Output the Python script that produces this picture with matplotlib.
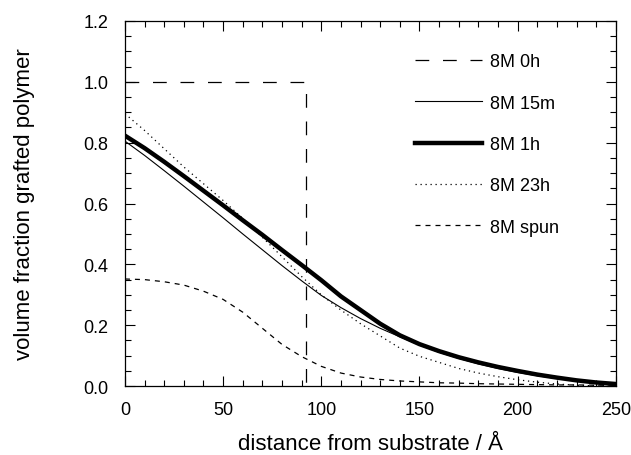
import numpy as np
import matplotlib
matplotlib.use('Agg')
import matplotlib.pyplot as plt
from matplotlib.ticker import MultipleLocator

plt.rcParams['font.family'] = ['Liberation Sans', 'DejaVu Sans']

# distance from substrate (A)
x = [0, 10, 20, 30, 40, 50, 60, 70, 80, 90, 100, 110, 120, 130, 140, 150,
     160, 170, 180, 190, 200, 210, 220, 230, 240, 250]

# 8M 0h: step profile
x_0h = [0, 92, 92]
y_0h = [1.0, 1.0, 0.0]

y_15m = [0.805, 0.758, 0.708, 0.657, 0.605, 0.553, 0.500, 0.448, 0.396, 0.346,
         0.298, 0.258, 0.222, 0.190, 0.162, 0.135, 0.111, 0.091, 0.073, 0.058,
         0.045, 0.034, 0.025, 0.017, 0.011, 0.006]
y_1h = [0.823, 0.782, 0.737, 0.690, 0.642, 0.594, 0.545, 0.497, 0.447, 0.398,
        0.348, 0.295, 0.250, 0.205, 0.167, 0.138, 0.115, 0.095, 0.078, 0.063,
        0.050, 0.038, 0.028, 0.019, 0.012, 0.007]
y_23h = [0.895, 0.840, 0.780, 0.720, 0.665, 0.610, 0.551, 0.489, 0.425, 0.360,
         0.300, 0.250, 0.205, 0.165, 0.125, 0.098, 0.078, 0.058, 0.043, 0.031,
         0.021, 0.013, 0.007, 0.003, 0.001, 0.000]
y_spun = [0.352, 0.350, 0.343, 0.332, 0.312, 0.285, 0.243, 0.190, 0.137, 0.097,
          0.065, 0.043, 0.030, 0.022, 0.017, 0.014, 0.011, 0.010, 0.008, 0.007,
          0.006, 0.005, 0.004, 0.004, 0.003, 0.003]

fig = plt.figure(figsize=(6.31, 4.56), dpi=100)
ax = fig.add_axes([0.198, 0.151, 0.778, 0.801])

ax.plot(x_0h, y_0h, color='black', lw=0.9, linestyle=(0, (11, 11)), label='8M 0h')
ax.plot(x, y_15m, color='black', lw=0.8, label='8M 15m')
ax.plot(x, y_1h, color='black', lw=3.2, label='8M 1h')
ax.plot(x, y_23h, color='black', lw=0.9, linestyle=(0, (1, 3)), label='8M 23h')
ax.plot(x, y_spun, color='black', lw=0.9, linestyle=(0, (4, 4)), label='8M spun')

ax.set_xlim(0, 250)
ax.set_ylim(0, 1.2)
ax.xaxis.set_major_locator(MultipleLocator(50))
ax.xaxis.set_minor_locator(MultipleLocator(10))
ax.yaxis.set_major_locator(MultipleLocator(0.2))
ax.yaxis.set_minor_locator(MultipleLocator(0.05))
ax.yaxis.set_major_formatter(matplotlib.ticker.FormatStrFormatter('%.1f'))

ax.tick_params(which='both', direction='in', top=True, right=True, width=0.8)
ax.tick_params(which='major', length=7, labelsize=13)
ax.tick_params(which='minor', length=4)
ax.tick_params(axis='x', which='major', pad=11)
ax.tick_params(axis='y', which='major', pad=12)
for s in ax.spines.values():
    s.set_linewidth(0.9)

ax.set_xlabel('distance from substrate / Å', fontsize=16)
ax.set_ylabel('volume fraction grafted polymer', fontsize=16)
ax.xaxis.set_label_coords(0.5, -0.128)
ax.yaxis.set_label_coords(-0.183, 0.5)

leg = ax.legend(loc='upper left', bbox_to_anchor=(0.558, 0.956), frameon=False,
                fontsize=13, handlelength=3.7, handletextpad=0.45,
                labelspacing=1.35)

fig.savefig('out.png', dpi=100)
